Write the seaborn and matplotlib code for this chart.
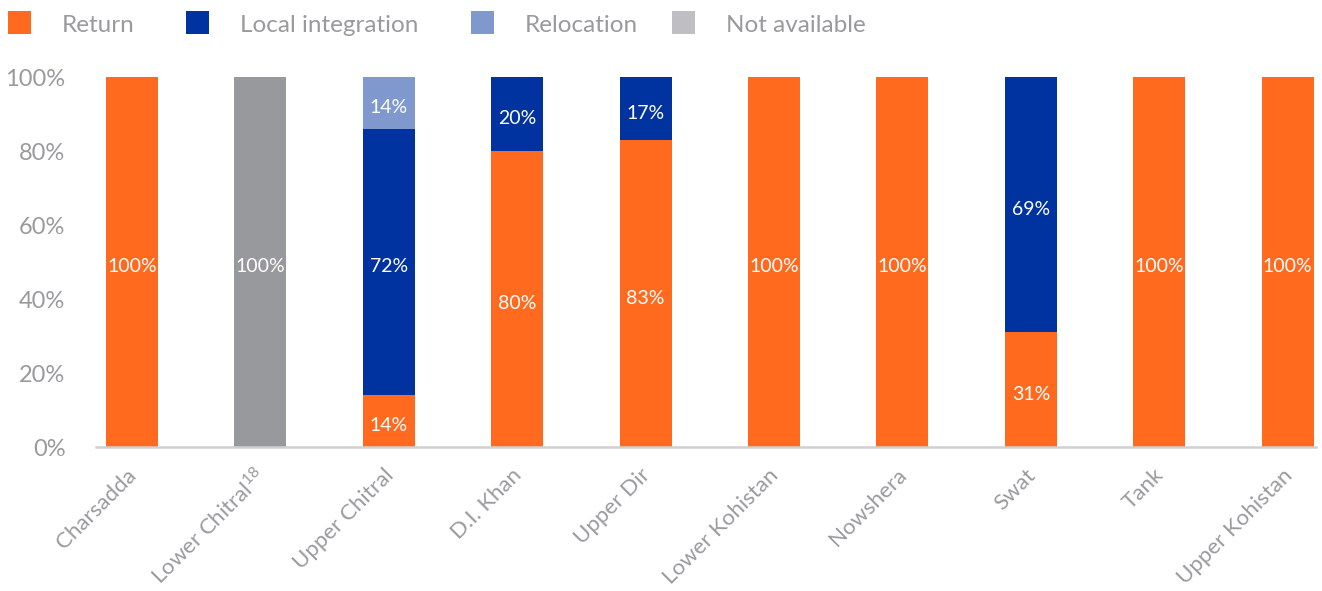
import matplotlib
matplotlib.use("Agg")
import matplotlib.pyplot as plt
import seaborn as sns
import pandas as pd
import numpy as np
from matplotlib.patches import Rectangle

districts = ["Charsadda", "Lower Chitral$^{\\mathregular{18}}$", "Upper Chitral", "D.I. Khan", "Upper Dir",
             "Lower Kohistan", "Nowshera", "Swat", "Tank", "Upper Kohistan"]
ret = [100, 0, 14, 80, 83, 100, 100, 31, 100, 100]
local = [0, 0, 72, 20, 17, 0, 0, 69, 0, 0]
reloc = [0, 0, 14, 0, 0, 0, 0, 0, 0, 0]
na = [0, 100, 0, 0, 0, 0, 0, 0, 0, 0]
series_names = ["Return", "Local integration", "Relocation", "Not available"]
bar_colors = ["#FF6A1F", "#0033A0", "#7F99CF", "#98999D"]
legend_colors = ["#FF6A1F", "#0033A0", "#7F99CF", "#BFBFC3"]

sns.set_theme(style="white")
plt.rcParams["font.family"] = ["Lato", "DejaVu Sans"]
text_gray = "#9A9A9E"

df = pd.DataFrame({"district": districts, "Return": ret, "Local integration": local,
                   "Relocation": reloc, "Not available": na})
cum = df[series_names].cumsum(axis=1)

W, H = 1322, 591
fig = plt.figure(figsize=(W/100, H/100), dpi=100)
ax = fig.add_axes([96/W, 1-447/H, (1316-96)/W, (447-77)/H])

# draw cumulative bars from top segment down so they stack
for name, col in reversed(list(zip(series_names, bar_colors))):
    sns.barplot(x=df["district"], y=cum[name], color=col, width=0.405,
                saturation=1, ax=ax, order=districts, linewidth=0)

# segment labels
for i in range(len(districts)):
    bottom = 0
    for name in series_names:
        v = df[name].iloc[i]
        if v > 0:
            ax.text(i, bottom + v/2 - 1.3, f"{v}%", ha="center", va="center",
                    color="white", fontsize=14)
        bottom += v

ax.set_xlim(-0.28, 9.22)
ax.set_ylim(0, 100)
ax.set_yticks([0, 20, 40, 60, 80, 100])
ax.set_yticklabels([f"{t}%" for t in [0, 20, 40, 60, 80, 100]])
ax.set_xlabel("")
ax.set_ylabel("")
for s in ["top", "right", "left"]:
    ax.spines[s].set_visible(False)
ax.spines["bottom"].set_color("#D0D0D4")
ax.spines["bottom"].set_linewidth(1.8)
ax.tick_params(axis="y", length=0, pad=22, labelsize=17, labelcolor=text_gray)
ax.tick_params(axis="x", length=0, pad=17, labelsize=16, labelcolor=text_gray)
for lab in ax.get_xticklabels():
    lab.set_rotation(45)
    lab.set_ha("right")
    lab.set_va("center_baseline")
    lab.set_rotation_mode("anchor")

# legend (manual layout in figure pixels)
sw_x = [8, 186, 471, 672]
tx_x = [62, 240, 525, 726]
for name, col, sx, tx in zip(series_names, legend_colors, sw_x, tx_x):
    fig.add_artist(Rectangle((sx/W, 1-34/H), 23/W, 23/H, transform=fig.transFigure,
                             facecolor=col, edgecolor="none"))
    fig.text(tx/W, 1-32/H, name, ha="left", va="baseline", fontsize=17.5, color=text_gray)

fig.savefig("out.png", dpi=100)
